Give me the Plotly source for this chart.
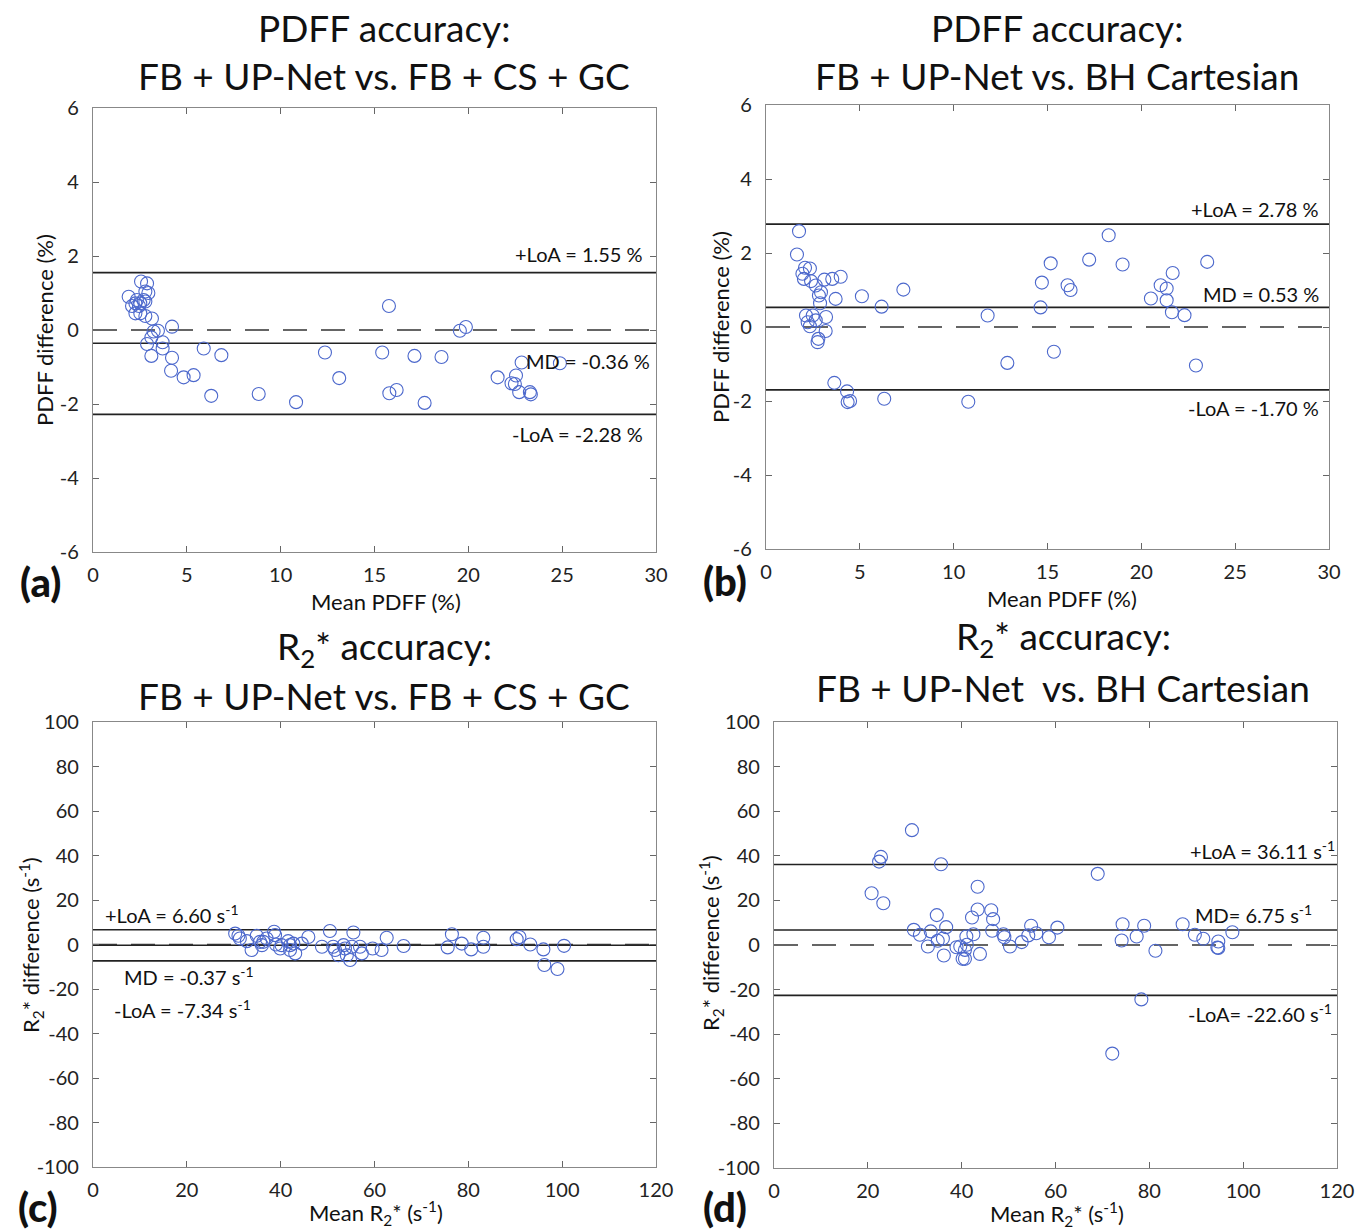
import plotly.graph_objects as go

# ---------------- data ----------------
a_x = [2.56, 2.88, 2.79, 2.95, 1.90, 2.34, 2.70, 2.79, 2.26, 2.52, 2.08, 2.45, 2.26, 2.52, 2.79, 3.14,
       3.23, 3.46, 4.21, 3.11, 2.88, 3.71, 3.71, 3.11, 4.21, 5.90, 6.84, 4.16, 4.83, 5.36, 6.30, 8.83,
       15.77, 19.55, 19.87, 12.36, 15.41, 17.13, 18.57, 13.12, 15.79, 16.18, 10.82, 17.67,
       22.84, 24.88, 21.56, 22.54, 22.30, 22.48, 22.71, 23.28, 23.33]
a_y = [1.31, 1.26, 1.04, 1.00, 0.90, 0.81, 0.81, 0.77, 0.72, 0.72, 0.65, 0.65, 0.45, 0.45, 0.38, 0.31,
       -0.04, -0.02, 0.09, -0.20, -0.38, -0.33, -0.50, -0.70, -0.75, -0.50, -0.68, -1.10, -1.28, -1.22, -1.78, -1.73,
       0.65, -0.02, 0.08, -0.61, -0.61, -0.70, -0.73, -1.30, -1.71, -1.62, -1.95, -1.97,
       -0.88, -0.90, -1.28, -1.23, -1.44, -1.46, -1.68, -1.68, -1.74]

b_x = [1.76, 1.65, 2.08, 2.34, 1.94, 2.02, 2.40, 2.65, 3.11, 3.53, 3.98, 2.93, 2.82, 2.88, 3.71, 5.11,
       6.16, 7.32, 2.13, 2.49, 2.65, 2.22, 2.34, 3.20, 3.18, 2.79, 2.75, 3.64, 4.32, 4.35, 4.48, 6.30,
       11.81, 10.78, 12.86, 15.34, 14.63, 14.70, 15.17, 16.07, 16.23, 17.22, 18.26, 19.00,
       23.51, 21.67, 21.03, 21.35, 20.51, 21.35, 21.63, 22.30, 22.91]
b_y = [2.59, 1.96, 1.60, 1.58, 1.44, 1.30, 1.24, 1.12, 1.28, 1.30, 1.36, 0.94, 0.85, 0.64, 0.76, 0.83,
       0.55, 1.01, 0.31, 0.31, 0.18, 0.13, 0.02, 0.27, -0.11, -0.32, -0.41, -1.51, -1.74, -2.03, -2.00, -1.94,
       0.31, -2.02, -0.97, -0.67, 0.53, 1.20, 1.72, 1.13, 1.00, 1.82, 2.48, 1.69,
       1.76, 1.46, 1.13, 1.04, 0.77, 0.72, 0.40, 0.32, -1.04]

c_x = [30.3, 31.0, 31.3, 32.8, 33.8, 34.9, 35.6, 36.0, 36.3, 37.0, 38.6, 38.8, 39.0, 39.9, 40.2, 41.6,
       42.0, 42.0, 42.7, 43.1, 44.5, 45.9, 48.8, 50.5, 51.2, 51.6, 52.3, 53.4, 53.7, 54.1, 54.8, 55.5,
       55.2, 56.9, 57.3, 59.6, 61.5, 62.6, 66.2,
       76.5, 75.6, 78.6, 80.6, 83.2, 83.2, 90.3, 90.9, 93.2, 96.0, 96.2, 99.0, 100.4]
c_y = [4.9, 3.9, 2.7, 1.5, -2.5, 3.9, 1.2, -0.3, 1.2, 2.7, 5.7, 4.2, 0.0, -1.8, -0.3, 1.5,
       -0.3, -2.5, 0.4, -4.0, 0.4, 3.4, -1.0, 6.1, -1.0, -2.5, -4.8, -0.3, -1.8, -4.8, -7.0, 5.4,
       -1.0, -1.0, -4.0, -1.8, -2.5, 3.0, -0.7,
       4.6, -1.3, 0.4, -2.2, 3.0, -1.0, 2.4, 3.4, 0.0, -2.2, -9.2, -11.0, -0.6]

d_x = [29.4, 22.8, 22.4, 35.6, 20.8, 23.3, 43.4, 34.7, 43.4, 42.2, 46.3, 46.7, 29.8, 31.1, 33.4, 36.7,
       36.0, 34.9, 32.8, 36.2, 38.9, 39.7, 41.0, 42.5, 41.1, 40.7, 40.2, 40.7, 43.9, 46.5, 48.9, 49.1,
       50.3, 52.8, 54.8, 54.2, 55.9, 58.6, 60.4,
       69.0, 74.3, 74.1, 77.3, 78.9, 81.3, 87.1, 89.7, 91.5, 94.7, 94.5, 94.7, 97.7, 72.1, 78.3]
d_y = [51.5, 39.5, 37.4, 36.2, 23.2, 18.7, 26.1, 13.4, 15.9, 12.3, 15.6, 11.6, 6.8, 4.6, 6.1, 8.0,
       2.9, 1.9, -0.7, -4.7, -1.0, -0.7, 3.8, 4.8, 0.1, -2.2, -6.2, -6.2, -4.0, 6.4, 4.8, 3.5,
       -0.7, 1.3, 8.6, 4.3, 5.3, 3.5, 7.8,
       31.9, 9.3, 2.0, 3.8, 8.6, -2.6, 9.3, 4.6, 2.8, 1.6, -1.1, -1.3, 5.7, -48.7, -24.4]

# agreement statistics (upper LoA, mean difference, lower LoA)
a_stats = [1.55, -0.36, -2.28]
b_stats = [2.78, 0.53, -1.70]
c_stats = [6.60, -0.37, -7.34]
d_stats = [36.11, 6.75, -22.60]

a_labels = ["+LoA = 1.55 %", "MD = -0.36 %", "-LoA = -2.28 %"]
b_labels = ["+LoA = 2.78 %", "MD = 0.53 %", "-LoA = -1.70 %"]
c_labels = ["+LoA = 6.60 s<sup>-1</sup>", "MD = -0.37 s<sup>-1</sup>", "-LoA = -7.34 s<sup>-1</sup>"]
d_labels = ["+LoA = 36.11 s<sup>-1</sup>", "MD= 6.75 s<sup>-1</sup>", "-LoA= -22.60 s<sup>-1</sup>"]

pdff_ticks = [-6, -4, -2, 0, 2, 4, 6]
pdff_xticks = [0, 5, 10, 15, 20, 25, 30]
r2_ticks = [-100, -80, -60, -40, -20, 0, 20, 40, 60, 80, 100]
r2_xticks = [0, 20, 40, 60, 80, 100, 120]

# ---------------- figure ----------------
W, H = 1371, 1230
FONT = "Lato"
MARK = "rgb(76,104,204)"

fig = go.Figure()

panels = [
    (a_x, a_y, a_stats, "x", "y", (93, 656), (108, 552), [0, 30], [-6, 6], pdff_xticks, pdff_ticks),
    (b_x, b_y, b_stats, "x2", "y2", (766, 1329), (105, 549), [0, 30], [-6, 6], pdff_xticks, pdff_ticks),
    (c_x, c_y, c_stats, "x3", "y3", (93, 656), (722, 1167), [0, 120], [-100, 100], r2_xticks, r2_ticks),
    (d_x, d_y, d_stats, "x4", "y4", (774, 1337), (722, 1168), [0, 120], [-100, 100], r2_xticks, r2_ticks),
]

for i, (xs, ys, stats, xa, ya, xd, yd, xr, yr, xt, yt) in enumerate(panels):
    fig.add_trace(go.Scatter(
        x=xs, y=ys, mode="markers", xaxis=xa, yaxis=ya, showlegend=False,
        marker=dict(symbol="circle-open", size=13, color=MARK, line=dict(width=1.1, color=MARK)),
        cliponaxis=False,
    ))
    sfx = "" if i == 0 else str(i + 1)
    axis_common = dict(showgrid=False, zeroline=False, ticks="inside", ticklen=6, tickwidth=1,
                       tickcolor="#666", showline=True, linecolor="#888", linewidth=1.2, mirror="ticks",
                       automargin=False,
                       tickfont=dict(family=FONT, size=20, color="#222"))
    fig.layout["xaxis" + sfx] = dict(domain=[xd[0] / W, xd[1] / W], range=xr, tickvals=xt,
                                     ticktext=[str(t) for t in xt], anchor="y" + sfx,
                                     ticklabelstandoff=5, **axis_common)
    fig.layout["yaxis" + sfx] = dict(domain=[1 - yd[1] / H, 1 - yd[0] / H], range=yr, tickvals=yt,
                                     ticktext=[str(t) for t in yt], anchor="x" + sfx,
                                     ticklabelstandoff=9, **axis_common)
    for v in stats:
        fig.add_shape(type="line", xref=f"{xa} domain", yref=ya,
                      x0=0, x1=1, y0=v, y1=v, line=dict(color="#222", width=1.6), layer="below")
    fig.add_shape(type="line", xref=f"{xa} domain", yref=ya, x0=0, x1=1, y0=0, y1=0,
                  line=dict(color="#333", width=1.4, dash="24px,14px"), layer="below")

# stat annotations (positions in data coordinates)
ann_font = dict(family=FONT, size=20, color="#111")
stat_pos = [
    ("x", "y", [(29.4, 2.05, "right"), (29.8, -0.84, "right"), (29.4, -2.81, "right")], a_labels),
    ("x2", "y2", [(29.6, 3.2, "right"), (29.6, 0.88, "right"), (29.6, -2.18, "right")], b_labels),
    ("x3", "y3", [(2.1, 13.8, "left"), (6.2, -14.3, "left"), (4.0, -29.0, "left")], c_labels),
    ("x4", "y4", [(120.0, 42.8, "right"), (115.1, 13.7, "right"), (119.4, -30.3, "right")], d_labels),
]
for xa, ya, poss, labs in stat_pos:
    for (px, py, anc), lab in zip(poss, labs):
        fig.add_annotation(x=px, y=py, xref=xa, yref=ya, text=lab, showarrow=False,
                           xanchor=anc, yanchor="middle", font=ann_font)

def paper(xpx, ypx):
    return xpx / W, 1 - ypx / H

def add_text(xpx, ypx, text, size, weight="normal", angle=0, xanchor="center"):
    x, y = paper(xpx, ypx)
    fig.add_annotation(x=x, y=y, xref="paper", yref="paper", text=text,
                       showarrow=False, xanchor=xanchor, yanchor="middle", textangle=angle,
                       font=dict(family=FONT, size=size, color="#111", weight=weight))

# titles
add_text(384, 28, "PDFF accuracy:", 37)
add_text(384, 75, "FB + UP-Net vs. FB + CS + GC", 37)
add_text(1057, 28, "PDFF accuracy:", 37)
add_text(1057, 75, "FB + UP-Net vs. BH Cartesian", 37)
add_text(384, 648, "R<sub>2</sub>* accuracy:", 37)
add_text(384, 695, "FB + UP-Net vs. FB + CS + GC", 37)
add_text(1063, 638, "R<sub>2</sub>* accuracy:", 37)
add_text(1063, 687, "FB + UP-Net  vs. BH Cartesian", 37)

# axis titles
add_text(386, 601, "Mean PDFF (%)", 22)
add_text(1062, 598, "Mean PDFF (%)", 22)
add_text(376, 1213, "Mean R<sub>2</sub>* (s<sup>-1</sup>)", 22)
add_text(1057, 1214, "Mean R<sub>2</sub>* (s<sup>-1</sup>)", 22)
add_text(44, 330, "PDFF difference (%)", 22, angle=-90)
add_text(720, 327, "PDFF difference (%)", 22, angle=-90)
add_text(31, 945, "R<sub>2</sub>* difference (s<sup>-1</sup>)", 22, angle=-90)
add_text(711, 943, "R<sub>2</sub>* difference (s<sup>-1</sup>)", 22, angle=-90)

# panel labels
add_text(40, 582, "(a)", 40, weight=900)
add_text(725, 581, "(b)", 40, weight=900)
add_text(38, 1207, "(c)", 40, weight=900)
add_text(725, 1207, "(d)", 40, weight=900)

fig.update_layout(width=W, height=H, margin=dict(l=0, r=0, t=0, b=0, pad=0, autoexpand=False),
                  paper_bgcolor="white", plot_bgcolor="white", showlegend=False,
                  font=dict(family=FONT))

fig.write_html("out.html", config={"displayModeBar": False},
               post_script="document.body.style.margin='0';document.body.style.overflow='hidden';")
